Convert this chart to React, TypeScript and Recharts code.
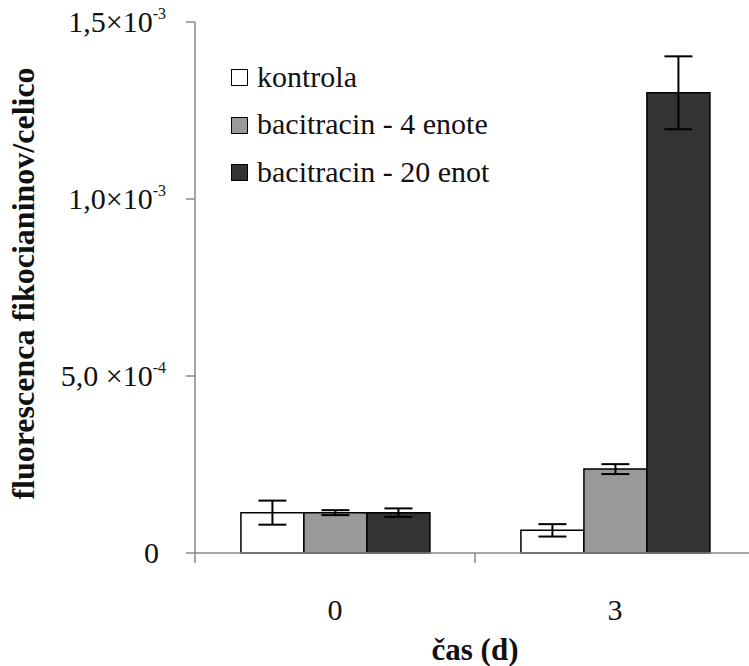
import React from 'react';
import { BarChart, Bar, XAxis, YAxis, ErrorBar, Legend } from 'recharts';

const categories = ['0', '3'];
const kontrola = [1.14e-4, 6.4e-5];
const kontrolaErr = [3.4e-5, 1.75e-5];
const baci4 = [1.14e-4, 2.37e-4];
const baci4Err = [7e-6, 1.4e-5];
const baci20 = [1.14e-4, 1.3e-3];
const baci20Err = [1.2e-5, 1.03e-4];

const seriesNames = ['kontrola', 'bacitracin - 4 enote', 'bacitracin - 20 enot'];
const seriesColors = ['#ffffff', '#999999', '#333333'];

const yTicks = [0, 0.0005, 0.001, 0.0015];
const yTickMain = ['0', '5,0 ×10', '1,0×10', '1,5×10'];
const yTickExp = ['', '-4', '-3', '-3'];

const yLabel = 'fluorescenca fikocianinov/celico';
const xLabel = 'čas (d)';

const data = categories.map((c, i) => ({
  day: c,
  k: kontrola[i],
  kErr: kontrolaErr[i],
  b4: baci4[i],
  b4Err: baci4Err[i],
  b20: baci20[i],
  b20Err: baci20Err[i],
}));

const FONT = 'Liberation Serif, Times New Roman, serif';
const AXIS_GRAY = '#888888';

const YTick = (props: any) => {
  const { y, payload, index } = props;
  const i = yTicks.indexOf(payload.value);
  const main = yTickMain[i >= 0 ? i : index];
  const exp = yTickExp[i >= 0 ? i : index];
  return (
    <text
      x={exp ? 166 : 159}
      y={y}
      dy={10}
      textAnchor="end"
      fontFamily={FONT}
      fontSize={30}
      fill="#111"
    >
      <tspan>{main}</tspan>
      {exp ? (
        <tspan dy={-13} fontSize={16}>
          {exp}
        </tspan>
      ) : null}
    </text>
  );
};

const XTick = (props: any) => {
  const { x, y, payload, width, visibleTicksCount, index } = props;
  const half = width / (visibleTicksCount || categories.length) / 2;
  const isLast = index === (visibleTicksCount || categories.length) - 1;
  return (
    <g>
      <line x1={x - half} x2={x - half} y1={y} y2={y + 10} stroke={AXIS_GRAY} strokeWidth={1.5} />
      {isLast ? (
        <line x1={x + half} x2={x + half} y1={y} y2={y + 10} stroke={AXIS_GRAY} strokeWidth={1.5} />
      ) : null}
      <text x={x} y={y} dy={67} textAnchor="middle" fontFamily={FONT} fontSize={30} fill="#111">
        {payload.value}
      </text>
    </g>
  );
};

const LegendContent = (props: any) => {
  const { payload } = props;
  const items = [...(payload || [])].sort(
    (a: any, b: any) => seriesNames.indexOf(a.value) - seriesNames.indexOf(b.value)
  );
  return (
    <div style={{ fontFamily: FONT, fontSize: 30, color: '#111' }}>
      {items.map((p: any, i: number) => (
        <div
          key={i}
          style={{ display: 'flex', alignItems: 'center', height: 47.5, whiteSpace: 'nowrap' }}
        >
          <span
            style={{
              display: 'inline-block',
              width: 17,
              height: 17,
              boxSizing: 'border-box',
              border: '1.5px solid #000',
              background: p.color,
              marginRight: 9,
              marginTop: 2,
            }}
          />
          <span>{p.value}</span>
        </div>
      ))}
    </div>
  );
};

export default function App() {
  return (
    <div
      style={{
        position: 'fixed',
        left: 0,
        top: 0,
        width: 749,
        height: 666,
        overflow: 'hidden',
        background: '#fff',
      }}
    >
      <BarChart
        width={760}
        height={666}
        data={data}
        margin={{ top: 22, right: 5, left: 0, bottom: 0 }}
        barCategoryGap="16.4%"
        barGap={0}
      >
        <XAxis
          dataKey="day"
          height={113}
          tickSize={0}
          tickMargin={0}
          tickLine={false}
          axisLine={{ stroke: AXIS_GRAY, strokeWidth: 1.5 }}
          tick={<XTick />}
          interval={0}
          label={(lp: any) => {
            const vb = lp.viewBox || {};
            return (
              <text
                x={vb.x + vb.width / 2}
                y={vb.y + 107}
                textAnchor="middle"
                fontFamily={FONT}
                fontWeight="bold"
                fontSize={31}
                fill="#111"
              >
                {xLabel}
              </text>
            );
          }}
        />
        <YAxis
          width={195}
          domain={[0, 0.0015]}
          ticks={yTicks}
          interval={0}
          tickSize={9}
          tickLine={{ stroke: AXIS_GRAY, strokeWidth: 1.5 }}
          axisLine={{ stroke: AXIS_GRAY, strokeWidth: 1.5 }}
          tick={<YTick />}
          label={(lp: any) => {
            const vb = lp.viewBox || {};
            const cx = 34;
            const cy = vb.y + vb.height / 2 - 4;
            return (
              <text
                x={cx}
                y={cy}
                transform={`rotate(-90, ${cx}, ${cy})`}
                textAnchor="middle"
                fontFamily={FONT}
                fontWeight="bold"
                fontSize={32}
                fill="#111"
              >
                {yLabel}
              </text>
            );
          }}
        />
        <Legend
          layout="vertical"
          align="center"
          verticalAlign="middle"
          wrapperStyle={{ left: 231, top: 53, width: 330 }}
          content={<LegendContent />}
        />
        <Bar dataKey="k" name={seriesNames[0]} fill={seriesColors[0]} stroke="#000" strokeWidth={1.5} isAnimationActive={false}>
          <ErrorBar dataKey="kErr" width={14} stroke="#000" strokeWidth={2} isAnimationActive={false} />
        </Bar>
        <Bar dataKey="b4" name={seriesNames[1]} fill={seriesColors[1]} stroke="#000" strokeWidth={1.5} isAnimationActive={false}>
          <ErrorBar dataKey="b4Err" width={14} stroke="#000" strokeWidth={2} isAnimationActive={false} />
        </Bar>
        <Bar dataKey="b20" name={seriesNames[2]} fill={seriesColors[2]} stroke="#000" strokeWidth={1.5} isAnimationActive={false}>
          <ErrorBar dataKey="b20Err" width={14} stroke="#000" strokeWidth={2} isAnimationActive={false} />
        </Bar>
      </BarChart>
    </div>
  );
}
